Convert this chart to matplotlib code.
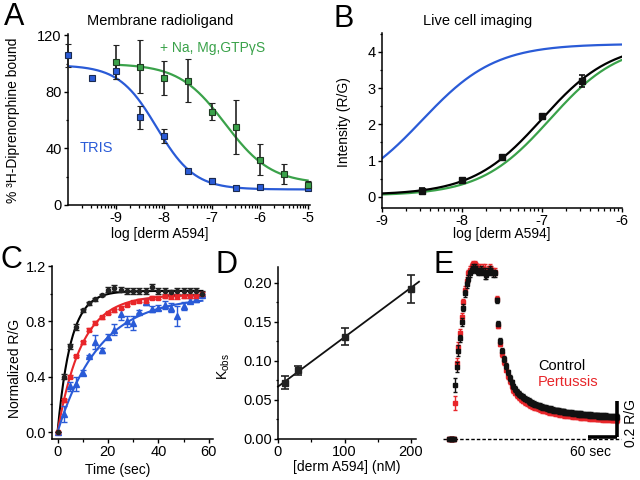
import numpy as np
import matplotlib
matplotlib.use("Agg")
import matplotlib.pyplot as plt
from matplotlib.ticker import MultipleLocator, FixedLocator

plt.rcParams['font.family'] = ['Liberation Sans', 'DejaVu Sans']
plt.rcParams['axes.unicode_minus'] = False
plt.rcParams['axes.linewidth'] = 1.1
plt.rcParams['xtick.major.width'] = 1.0
plt.rcParams['ytick.major.width'] = 1.0
plt.rcParams['xtick.minor.width'] = 0.9
plt.rcParams['ytick.minor.width'] = 0.9
plt.rcParams['xtick.major.size'] = 3
plt.rcParams['ytick.major.size'] = 3
plt.rcParams['xtick.minor.size'] = 1.8
plt.rcParams['ytick.minor.size'] = 1.8
plt.rcParams['xtick.labelsize'] = 10.5
plt.rcParams['ytick.labelsize'] = 10.5
plt.rcParams['xtick.major.pad'] = 1.5
plt.rcParams['ytick.major.pad'] = 1.5

BLUE = '#2a5bd7'
GREEN = '#3aa24a'
RED = '#e8262a'

# ---- A: membrane radioligand
a_x_tris = [-10, -9.5, -9, -8.5, -8, -7.5, -7, -6.5, -6, -5]
a_tris = [106, 90, 95, 62, 49, 24, 17, 12, 13, 12]
a_tris_err = [8, 1, 6, 8, 5, 1.5, 2, 1, 1, 1]
a_x_gtp = [-9, -8.5, -8, -7.5, -7, -6.5, -6, -5.5, -5]
a_gtp = [101, 98, 90, 88, 66, 55, 32, 22, 14]
a_gtp_err = [12, 19, 12, 15, 6, 19, 11, 7, 3]
# fitted curve parameters: top, bottom, logIC50, hill
a_fit_tris = [99, 11, -8.15, 1.1]
a_fit_gtp = [100, 15, -6.72, 0.9]

# ---- B: live cell imaging
b_x = [-8.5, -8, -7.5, -7, -6.5]
b_y = [0.15, 0.47, 1.1, 2.22, 3.2]
b_err = [0.08, 0.04, 0.04, 0.05, 0.17]
# top, bottom, logEC50, hill
b_fit_black = [4.25, 0.05, -7.0, 1.0]
b_fit_green = [4.25, 0.03, -6.9, 1.0]
b_fit_blue = [4.22, 0.0, -8.5, 0.95]

# ---- C: association kinetics
c_time = np.arange(0, 60, 2.5)
c_black = [0, 0.40, 0.62, 0.76, 0.88, 0.93, 0.96, 0.99, 1.03, 1.04, 1.03, 1.02,
           1.02, 1.02, 1.02, 1.05, 1.02, 1.02, 1.01, 1.02, 1.02, 1.02, 1.02, 1.00]
c_black_err = [0, 0.02, 0.02, 0.02, 0.01, 0.01, 0.01, 0.01, 0.02, 0.02, 0.02, 0.02,
               0.02, 0.02, 0.02, 0.02, 0.02, 0.02, 0.02, 0.02, 0.02, 0.02, 0.02, 0.02]
c_red = [0, 0.23, 0.40, 0.55, 0.65, 0.74, 0.79, 0.83, 0.86, 0.88, 0.90, 0.92,
         0.94, 0.95, 0.95, 0.97, 0.97, 0.98, 0.98, 0.98, 0.98, 0.98, 0.98, 1.00]
c_red_err = [0, 0.01, 0.01, 0.01, 0.01, 0.01, 0.01, 0.01, 0.01, 0.01, 0.01, 0.01,
             0.01, 0.01, 0.01, 0.01, 0.01, 0.01, 0.02, 0.02, 0.01, 0.01, 0.01, 0.01]
c_blue = [0, 0.13, 0.33, 0.35, 0.43, 0.55, 0.65, 0.59, 0.69, 0.74, 0.85, 0.80,
          0.79, 0.87, 0.94, 0.89, 0.90, 0.92, 0.90, 0.84, 0.91, 0.95, 0.96, 0.99]
c_blue_err = [0, 0.06, 0.03, 0.05, 0.02, 0.01, 0.05, 0.02, 0.02, 0.04, 0.04, 0.04,
              0.05, 0.01, 0.02, 0.02, 0.02, 0.03, 0.03, 0.07, 0.03, 0.02, 0.02, 0.01]
# plateau, rate (1/s)
c_fit_black = [1.02, 0.19]
c_fit_red = [0.99, 0.105]
c_fit_blue = [0.98, 0.06]

# ---- D: kobs vs concentration
d_x = [10, 30, 100, 200]
d_y = [0.072, 0.088, 0.131, 0.192]
d_err = [0.008, 0.006, 0.011, 0.018]
d_fit = [0.067, 0.000633]  # intercept, slope

# ---- E: control vs pertussis trace
e_time_base = [-12, -9, -6, -3]
e_time_rise = np.arange(0, 85, 3.5)
e_time_decay = np.arange(88, 345, 4)
e_ctrl_base = [0, 0, 0, 0]
e_pert_base = [0, 0, 0, 0]
e_ctrl_rise = [0.30, 0.40, 0.49, 0.56, 0.65, 0.73, 0.81, 0.86, 0.89, 0.92, 0.94, 0.95, 0.95,
               0.94, 0.93, 0.93, 0.94, 0.93, 0.92, 0.91, 0.93, 0.94, 0.93, 0.92, 0.92]
e_pert_rise = [0.20, 0.42, 0.51, 0.59, 0.68, 0.76, 0.83, 0.88, 0.92, 0.94, 0.96, 0.97, 0.97,
               0.96, 0.95, 0.95, 0.94, 0.95, 0.94, 0.93, 0.94, 0.95, 0.94, 0.93, 0.93]
e_rise_err = [0.04, 0.03, 0.03, 0.02, 0.02, 0.02, 0.02, 0.02, 0.02, 0.02, 0.02, 0.02, 0.02,
              0.02, 0.02, 0.02, 0.02, 0.02, 0.03, 0.02, 0.02, 0.02, 0.02, 0.02, 0.02]
e_ctrl_decay = [0.77, 0.64, 0.545, 0.49, 0.445, 0.405, 0.37, 0.34, 0.315, 0.292, 0.277, 0.262,
                0.25, 0.241, 0.233, 0.224, 0.218, 0.211, 0.205, 0.201, 0.195, 0.191, 0.187,
                0.183, 0.178, 0.176, 0.174, 0.17, 0.167, 0.166, 0.162, 0.16, 0.159, 0.156,
                0.154, 0.153, 0.15, 0.149, 0.147, 0.146, 0.145, 0.143, 0.142, 0.14, 0.139,
                0.138, 0.137, 0.136, 0.135, 0.134, 0.133, 0.132, 0.131, 0.131, 0.129, 0.129,
                0.128, 0.127, 0.127, 0.126, 0.125, 0.125, 0.124, 0.124, 0.123]
e_pert_decay = [0.78, 0.63, 0.53, 0.47, 0.425, 0.385, 0.35, 0.32, 0.295, 0.273, 0.258, 0.243,
                0.232, 0.222, 0.214, 0.206, 0.2, 0.193, 0.188, 0.183, 0.178, 0.174, 0.17,
                0.166, 0.162, 0.159, 0.157, 0.153, 0.151, 0.149, 0.146, 0.144, 0.142, 0.14,
                0.138, 0.137, 0.134, 0.133, 0.131, 0.13, 0.128, 0.127, 0.126, 0.124, 0.123,
                0.122, 0.121, 0.12, 0.119, 0.118, 0.117, 0.116, 0.115, 0.114, 0.113, 0.113,
                0.112, 0.111, 0.11, 0.11, 0.109, 0.108, 0.108, 0.107, 0.106]
e_decay_err = 0.015


def hill_down(x, p):
    top, bottom, lc, h = p
    return bottom + (top - bottom) / (1 + 10 ** ((x - lc) * h))


def hill_up(x, p):
    top, bottom, lc, h = p
    return bottom + (top - bottom) / (1 + 10 ** ((lc - x) * h))


W, H = 640, 480
fig = plt.figure(figsize=(6.4, 4.8), dpi=100)


def px_axes(l, t, r, b):
    return fig.add_axes([l / W, 1 - b / H, (r - l) / W, (b - t) / H])


def ftext(x, y, s, **kw):
    return fig.text(x / W, 1 - y / H, s, **kw)


def style(ax):
    ax.spines['top'].set_visible(False)
    ax.spines['right'].set_visible(False)
    ax.tick_params(which='both', direction='out')


def log_minor(lo, hi):
    return [d + np.log10(k) for d in range(lo, hi) for k in range(2, 10)]


LAB = 10

# ---------- A
ax = px_axes(68, 34, 310, 205)
style(ax)
xa = np.linspace(-10, -5, 300)
ax.plot(xa, hill_down(xa, a_fit_tris), color=BLUE, lw=1.6, zorder=2)
xg = np.linspace(-9, -5, 300)
ax.plot(xg, hill_down(xg, a_fit_gtp), color=GREEN, lw=1.6, zorder=2)
ax.errorbar(a_x_tris, a_tris, yerr=a_tris_err, fmt='s', ms=4, mfc=BLUE, mec='#1a2a50',
            mew=0.8, ecolor='#222222', elinewidth=1.2, capsize=2.5, capthick=1.2, zorder=3, clip_on=False)
ax.errorbar(a_x_gtp, a_gtp, yerr=a_gtp_err, fmt='s', ms=4, mfc=GREEN, mec='#1f3a22',
            mew=0.8, ecolor='#222222', elinewidth=1.2, capsize=2.5, capthick=1.2, zorder=3, clip_on=False)
ax.set_xlim(-10, -4.95)
ax.set_ylim(0, 121)
ax.set_xticks([-9, -8, -7, -6, -5])
ax.xaxis.set_minor_locator(FixedLocator(log_minor(-10, -5)))
ax.set_yticks([0, 40, 80, 120])
ax.yaxis.set_minor_locator(MultipleLocator(20))
ax.text(-8.07, 111, '+ Na, Mg,GTPγS', color=GREEN, fontsize=10, va='center')
ax.text(-9.75, 40, 'TRIS', color=BLUE, fontsize=10.5, va='center')
ftext(160, 21, 'Membrane radioligand', fontsize=10.5, ha='center', va='center')
ftext(160, 234, 'log [derm A594]', fontsize=LAB, ha='center', va='center')
ftext(13, 120, '% ³H-Diprenorphine bound', fontsize=LAB, ha='center', va='center', rotation=90)
ftext(4, 25, 'A', fontsize=22, va='baseline')

# ---------- B
ax = px_axes(382, 33, 622, 208)
style(ax)
xb = np.linspace(-9, -6, 300)
ax.plot(xb, hill_up(xb, b_fit_blue), color=BLUE, lw=1.6)
ax.plot(xb, hill_up(xb, b_fit_green), color=GREEN, lw=1.6)
ax.plot(xb, hill_up(xb, b_fit_black), color='black', lw=1.6)
ax.errorbar(b_x, b_y, yerr=b_err, fmt='s', ms=4.5, color='#111111', elinewidth=1.2,
            capsize=2.5, capthick=1.2, zorder=3)
ax.set_xlim(-9, -6)
ax.set_ylim(-0.31, 4.52)
ax.set_xticks([-9, -8, -7, -6])
ax.xaxis.set_minor_locator(FixedLocator(log_minor(-9, -6)))
ax.set_yticks([0, 1, 2, 3, 4])
ax.yaxis.set_minor_locator(MultipleLocator(0.5))
ftext(478, 21, 'Live cell imaging', fontsize=10.5, ha='center', va='center')
ftext(502, 234, 'log [derm A594]', fontsize=LAB, ha='center', va='center')
ftext(344, 122, 'Intensity (R/G)', fontsize=LAB, ha='center', va='center', rotation=90)
ftext(334, 27, 'B', fontsize=22, va='baseline')

# ---------- C
ax = px_axes(52, 266, 213, 439)
style(ax)
tc = np.linspace(0, 57.5, 300)
for p, col in [(c_fit_black, 'black'), (c_fit_red, RED), (c_fit_blue, BLUE)]:
    ax.plot(tc, p[0] * (1 - np.exp(-p[1] * tc)), color=col, lw=1.5, zorder=2)
ax.errorbar(c_time, c_blue, yerr=c_blue_err, fmt='^', ms=4, color=BLUE, elinewidth=1,
            capsize=2, capthick=1, zorder=3)
ax.errorbar(c_time, c_red, yerr=c_red_err, fmt='s', ms=3.5, color=RED, elinewidth=1,
            capsize=2, capthick=1, zorder=3)
ax.errorbar(c_time, c_black, yerr=c_black_err, fmt='o', ms=3, color='#222222', elinewidth=1,
            capsize=2, capthick=1, zorder=3)
ax.set_xlim(-2.2, 61.7)
ax.set_ylim(-0.05, 1.2)
ax.set_xticks([0, 20, 40, 60])
ax.xaxis.set_minor_locator(MultipleLocator(10))
ax.set_yticks([0, 0.4, 0.8, 1.2])
ax.set_yticklabels(['0.0', '0.4', '0.8', '1.2'])
ax.yaxis.set_minor_locator(MultipleLocator(0.2))
ftext(118, 470, 'Time (sec)', fontsize=LAB, ha='center', va='center')
ftext(15, 368, 'Normalized R/G', fontsize=LAB, ha='center', va='center', rotation=90)
ftext(1, 268, 'C', fontsize=22, va='baseline')

# ---------- D
ax = px_axes(278, 267, 416, 439)
style(ax)
xd = np.array([0, 212])
ax.plot(xd, d_fit[0] + d_fit[1] * xd, color='#111111', lw=1.3, clip_on=False)
ax.errorbar(d_x, d_y, yerr=d_err, fmt='s', ms=4, color='#222222', elinewidth=1.2,
            capsize=3, capthick=1.2, zorder=3)
ax.set_xlim(0, 207.5)
ax.set_ylim(0, 0.22)
ax.set_xticks([0, 100, 200])
ax.xaxis.set_minor_locator(MultipleLocator(50))
ax.set_yticks([0, 0.05, 0.10, 0.15, 0.20])
ax.set_yticklabels(['0.00', '0.05', '0.10', '0.15', '0.20'])
ax.yaxis.set_minor_locator(MultipleLocator(0.025))
ftext(347, 467, '[derm A594] (nM)', fontsize=LAB, ha='center', va='center')
ftext(224, 367, 'K$\\mathregular{_{obs}}$', fontsize=LAB, ha='center', va='center', rotation=90)
ftext(216, 273, 'D', fontsize=22, va='baseline')

# ---------- E
ax = px_axes(440, 260, 625, 445)
ax.axis('off')
ax.set_xlim(-31.8, 360.4)
ax.set_ylim(-0.033, 0.994)
e_time = np.concatenate([e_time_base, e_time_rise, e_time_decay])
e_ctrl = np.concatenate([e_ctrl_base, e_ctrl_rise, e_ctrl_decay])
e_pert = np.concatenate([e_pert_base, e_pert_rise, e_pert_decay])
e_err = np.concatenate([[0.01] * len(e_time_base), e_rise_err,
                        [e_decay_err] * len(e_time_decay)])
ax.plot([-25, 352], [0, 0], color='black', lw=1, ls=(0, (2.5, 1.5)), zorder=1)
ax.errorbar(e_time, e_pert, yerr=e_err, fmt='s', ms=3, color=RED, elinewidth=1,
            capsize=1.5, capthick=1, zorder=2)
ax.errorbar(e_time, e_ctrl, yerr=e_err, fmt='s', ms=3, color='#111111', elinewidth=1,
            capsize=1.5, capthick=1, zorder=3)
# scale bars: 60 sec, 0.2 R/G
ax.plot([283, 343], [0.012, 0.012], color='black', lw=2.6, solid_capstyle='butt', zorder=4)
ax.plot([343, 343], [0.012, 0.212], color='black', lw=2.6, solid_capstyle='butt', zorder=4)
ftext(538, 370, 'Control', fontsize=10.5, va='baseline', color='black')
ftext(538, 386, 'Pertussis', fontsize=10.5, va='baseline', color=RED)
ftext(591, 452, '60 sec', fontsize=LAB, ha='center', va='center')
ftext(631, 423, '0.2 R/G', fontsize=LAB, ha='center', va='center', rotation=90)
ftext(433, 273, 'E', fontsize=22, va='baseline')

fig.savefig('out.png', dpi=100)
